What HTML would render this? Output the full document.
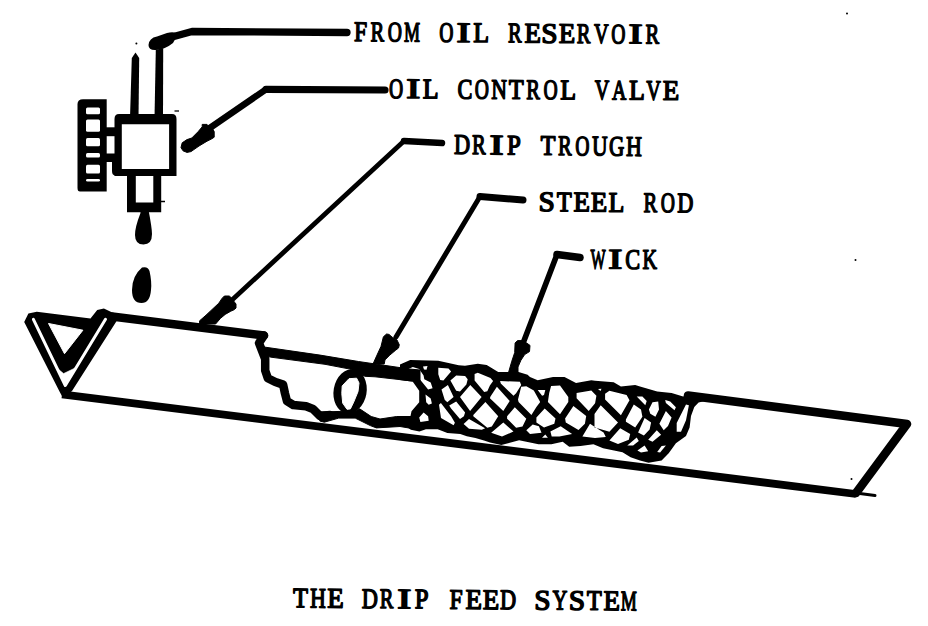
<!DOCTYPE html>
<html><head><meta charset="utf-8"><style>html,body{margin:0;padding:0;background:#fff;overflow:hidden;}svg{display:block;}</style></head>
<body><svg width="928" height="626" viewBox="0 0 928 626"><path d="M347.0,32.5 L192.0,31.5 L172.0,37.0" fill="none" stroke="#000" stroke-width="7.3" stroke-linecap="round" stroke-linejoin="round"/>
<path d="M148.5,45 Q149,38 157,36.5 L167,33 Q174,31 178,34 L173,43 Q165,49.5 156,50 Q148.5,50.5 148.5,45Z" fill="#000"/>
<path d="M385.0,90.0 L266.0,89.4" fill="none" stroke="#000" stroke-width="7.2" stroke-linecap="round" stroke-linejoin="round"/>
<path d="M266.0,89.4 L204.0,132.0" fill="none" stroke="#000" stroke-width="6.5" stroke-linecap="round" stroke-linejoin="round"/>
<path d="M202.2,124.4 L207.0,124.4 L208.6,126.0 L211.0,126.0 L214.2,131.6 L214.2,137.2 L211.8,138.8 L207.0,141.2 L199.0,146.0 L191.0,151.6 L187.0,152.4 L183.0,150.8 L181.0,147.6 L182.2,142.8 L187.0,139.6 L191.8,138.0 L198.2,131.6 L202.2,126.8Z" fill="#000" stroke="#000" stroke-width="1" stroke-linejoin="round"/>
<path d="M442.0,143.0 L404.0,141.0" fill="none" stroke="#000" stroke-width="6.5" stroke-linecap="round" stroke-linejoin="round"/>
<path d="M404.0,141.0 L232.0,300.0" fill="none" stroke="#000" stroke-width="4.8" stroke-linecap="round" stroke-linejoin="round"/>
<path d="M222.0,298.4 L224.4,296.0 L229.2,296.0 L230.8,297.2 L234.4,302.0 L236.0,304.0 L236.0,308.0 L234.4,309.6 L230.8,311.2 L225.2,314.4 L220.4,318.4 L215.6,324.0 L199.6,324.0 L199.6,320.8 L206.0,315.2 L218.8,303.2Z" fill="#000" stroke="#000" stroke-width="1" stroke-linejoin="round"/>
<path d="M523.0,200.0 L480.0,196.5" fill="none" stroke="#000" stroke-width="7" stroke-linecap="round" stroke-linejoin="round"/>
<path d="M480.0,196.5 L396.0,337.0" fill="none" stroke="#000" stroke-width="5" stroke-linecap="round" stroke-linejoin="round"/>
<path d="M383.4,336.8 L386.6,334.0 L389.0,334.4 L392.2,337.2 L397.0,340.0 L399.3,344.8 L398.5,348.0 L395.4,350.4 L389.8,355.1 L385.0,359.9 L384.2,364.0 L373.0,364.0 L377.0,355.1 L381.0,346.4 L382.6,340.0Z" fill="#000" stroke="#000" stroke-width="1" stroke-linejoin="round"/>
<path d="M580.0,257.5 L557.0,254.5" fill="none" stroke="#000" stroke-width="7.5" stroke-linecap="round" stroke-linejoin="round"/>
<path d="M557.0,254.5 L523.5,342.0" fill="none" stroke="#000" stroke-width="5.6" stroke-linecap="round" stroke-linejoin="round"/>
<path d="M515.1,343.0 L517.5,340.6 L521.8,340.6 L526.6,343.0 L530.0,345.4 L529.5,351.6 L524.7,354.5 L520.9,360.3 L518.0,367.0 L518.0,373.0 L508.4,373.0 L511.8,361.2 L514.7,352.6Z" fill="#000" stroke="#000" stroke-width="1" stroke-linejoin="round"/>
<path d="M130.0,118.0 L131.8,58.0 L135.5,52.5 L139.2,58.0 L138.5,118.0Z" fill="#000"/>
<path d="M154.5,118.0 L155.8,50.0 L163.2,48.0 L163.0,118.0Z" fill="#000"/>
<path d="M119,114 Q114.5,114 114.5,119 V176 H176.5 V119 Q176.5,114 172,114 Z M121.8,124.3 V169.1 H169.1 V124.3 Z" fill="#000" fill-rule="evenodd"/>
<rect x="104" y="127.3" width="13" height="8.9" fill="#000"/><rect x="104" y="153.5" width="13" height="8.5" fill="#000"/><path d="M112,162 H118 V175.5 H115 Q112,175 112,171 Z" fill="#000"/>
<path d="M83,99.2 H106.7 V191.5 H80 Q77.5,191.5 77.5,188 V104 Q77.5,99.2 83,99.2Z" fill="#000"/>
<rect x="86" y="107.6" width="14" height="6.7" rx="1.5" fill="#fff"/>
<rect x="86" y="119.5" width="14" height="12.3" rx="1.5" fill="#fff"/>
<rect x="86" y="137.9" width="14" height="8.4" rx="1.5" fill="#fff"/>
<rect x="86" y="153" width="14" height="4.5" rx="1.5" fill="#fff"/>
<rect x="86" y="164.7" width="14" height="8.8" rx="1.5" fill="#fff"/>
<rect x="86" y="179" width="14" height="2.4" rx="1.5" fill="#fff"/>
<path d="M127,171.8 H161.2 V212.2 H127 Z M135.8,175.3 V202.5 H153.3 V175.3 Z" fill="#000" fill-rule="evenodd"/>
<path d="M140.5,210 L148.5,210 Q152,228 152,234 Q152,244.5 143.5,244.5 Q135,244.5 135,235 Q135,227 140.5,213 Z" fill="#000"/>
<path d="M142,267.5 Q148,266 149.5,271 Q152,282 151,290 Q150,303 141.5,303 Q132,303 132,290 Q132,276 142,267.5 Z" fill="#000"/>
<path d="M24.2,322.0 L28.4,313.4 L36.8,311.7 L90.5,318.4 L97.2,310.0 L103.9,308.4 L112.3,312.6 L120.0,314.5 L116.0,322.0 L72.0,391.0 L63.0,398.0 L59.5,391.5Z" fill="#000"/>
<path d="M33.4,319.3 L65.3,385.5 L105.5,319.3" fill="none" stroke="#fff" stroke-width="3" stroke-linejoin="round" stroke-linecap="round"/>
<path d="M56.9,368.0 L63.6,373.5 L75.0,368.0 L70.0,377.0 L65.3,386.0 L61.0,377.0Z" fill="#fff" stroke="#fff" stroke-width="0.5" stroke-linejoin="round"/>
<circle cx="847" cy="13.5" r="1" fill="#000"/><circle cx="855.5" cy="260" r="1" fill="#000"/><circle cx="851.5" cy="479" r="1" fill="#000"/><circle cx="136.4" cy="43.5" r="1" fill="#000"/><path d="M174.5,111 H179" stroke="#000" stroke-width="1.3"/><path d="M160,201.5 H165" stroke="#000" stroke-width="1.5"/>
<path d="M48.5,323.5 L82.9,330.2 L64.5,353.7Z" fill="#fff" stroke="#fff" stroke-width="1" stroke-linejoin="round"/>
<path d="M112.0,316.5 L264.0,335.5" fill="none" stroke="#000" stroke-width="8.5" stroke-linecap="round" stroke-linejoin="round"/>
<path d="M264.0,335.5 L259.0,343.0 L265.2,359.0 L265.2,370.5 L267.8,378.2 L275.4,382.0 L283.1,384.6 L285.0,393.5 L287.0,401.2 L293.3,405.0 L306.0,406.3 L313.0,409.0 L320.0,416.0 L330.0,415.0" fill="none" stroke="#000" stroke-width="8.5" stroke-linecap="round" stroke-linejoin="round"/>
<path d="M264.0,347.0 L320.0,355.1 L358.5,361.5 L409.5,369.0 L420.0,370.0 L420.0,381.0 L409.5,380.7 L375.0,376.8 L365.0,376.3 L350.0,369.1 L325.0,364.3 L270.3,357.1 L264.0,356.0Z" fill="#000" stroke="#000" stroke-width="1" stroke-linejoin="round"/>
<path d="M62.0,394.3 L856.0,494.0" fill="none" stroke="#000" stroke-width="7.8" stroke-linecap="butt" stroke-linejoin="round"/>
<path d="M856.0,493.0 L875.0,495.5" fill="none" stroke="#000" stroke-width="3" stroke-linecap="round" stroke-linejoin="round"/>
<path d="M688.0,395.5 L907.0,424.0 L856.0,493.0" fill="none" stroke="#000" stroke-width="8.6" stroke-linecap="round" stroke-linejoin="round"/>
<ellipse cx="350.1" cy="391.3" rx="16.5" ry="22.3" transform="rotate(10 350.1 391.3)" fill="#000"/>
<path d="M342.2,385.9 L349.0,378.7 L356.6,378.2 L359.0,383.0 L358.0,391.6 L353.7,402.1 L350.4,408.9 L347.0,409.3 L342.7,403.1 L341.8,393.5Z" fill="#fff" stroke="#fff" stroke-width="1" stroke-linejoin="round"/>
<path d="M319.8,412.0 L355.0,411.0 L359.6,408.8 L371.2,416.5 L380.0,419.0 L396.7,416.5 L412.0,416.5 L412.0,428.5 L400.0,426.5 L376.4,427.9 L370.3,425.6 L355.2,418.1 L338.7,418.1 L324.3,422.2 L319.8,421.0Z" fill="#000" stroke="#000" stroke-width="1" stroke-linejoin="round"/>
<path d="M400.0,364.6 L410.2,360.1 L438.3,360.7 L458.7,365.2 L465.0,365.7 L477.8,363.8 L486.7,365.1 L498.2,372.1 L518.6,372.1 L527.6,374.7 L530.0,377.1 L537.7,380.3 L553.0,377.1 L564.5,377.1 L576.0,382.9 L591.3,380.3 L595.0,380.7 L613.7,382.2 L620.9,386.5 L635.2,385.1 L640.0,386.5 L657.2,391.5 L671.6,392.9 L683.1,396.5 L690.0,393.0 L706.0,394.5 L706.0,400.8 L698.6,402.6 L694.3,407.0 L691.0,415.9 L689.6,427.4 L686.0,436.1 L675.9,443.2 L668.7,453.3 L661.6,460.5 L648.6,462.7 L640.0,460.4 L630.6,457.2 L622.5,452.3 L603.1,448.3 L593.4,444.2 L580.5,445.9 L569.2,446.7 L562.7,441.8 L551.4,444.2 L538.5,444.2 L519.1,440.2 L501.3,445.0 L490.0,442.6 L484.0,440.6 L475.4,437.9 L466.8,436.3 L460.3,434.1 L447.4,433.0 L437.7,429.2 L425.9,429.2 L419.4,431.4 L410.8,429.8 L406.5,426.6 L400.0,426.0 L400.0,416.3 L410.2,417.6 L411.5,411.2 L419.2,402.3 L419.2,390.8 L412.8,381.8 L400.0,379.9Z M408.3,369.0 L412.8,367.1 L419.2,369.0 L423.6,375.4 L424.3,379.3 L430.7,382.5 L432.6,388.2 L428.1,389.5 L424.9,385.6 L420.4,380.0 L414.0,375.5 L408.3,373.0Z M423.0,366.5 L427.5,366.0 L426.5,369.7 L424.0,369.5Z M425.5,394.6 L430.7,398.4 L431.9,403.5 L428.7,404.8 L426.2,402.3Z M419.2,417.6 L423.6,412.5 L428.1,416.3 L428.7,420.8 L420.4,422.0Z M438.3,367.8 L448.5,368.4 L451.1,371.6 L443.4,380.5 L440.2,379.9 L438.3,374.2Z M450.4,380.5 L456.2,375.4 L465.1,376.1 L467.7,379.3 L466.4,384.4 L460.0,391.4 L456.2,390.8Z M441.5,389.5 L447.9,385.0 L453.6,397.1 L447.3,402.3 L444.7,399.7Z M449.2,405.4 L456.2,401.6 L465.1,412.5 L463.9,416.3 L460.0,418.9 L451.1,408.6Z M439.0,404.8 L440.9,402.9 L451.1,416.3 L454.9,422.7 L453.6,425.2 L441.0,417.9Z M460.0,397.0 L470.3,385.0 L481.6,397.0 L470.1,411.1Z M474.6,374.0 L477.8,372.8 L490.5,377.9 L493.1,381.1 L489.9,385.5 L487.3,391.3 L484.2,391.9 L474.6,380.4Z M500.1,381.1 L519.9,381.7 L521.2,384.9 L516.1,393.2 L513.5,395.8 L500.8,383.6Z M521.2,386.8 L526.3,386.2 L533.8,390.5 L540.2,402.0 L536.4,407.1 L531.4,414.9 L518.6,402.1 L518.0,399.6Z M490.5,396.4 L496.9,386.8 L509.7,400.9 L503.3,411.1 L489.9,398.3Z M473.3,414.9 L485.4,402.1 L498.2,416.2 L491.8,426.4 L487.3,427.7 L473.3,416.2Z M507.1,416.2 L514.8,407.3 L526.3,418.7 L522.5,426.4 L516.1,427.7 L507.1,418.7Z M463.6,423.9 L469.0,419.0 L485.1,428.2 L481.9,429.8 L469.0,428.7Z M491.2,432.8 L503.3,422.6 L513.5,431.5 L502.0,436.6Z M526.3,430.2 L532.7,424.5 L538.9,426.3 L541.5,432.7 L530.0,434.0Z M537.7,389.9 L545.3,389.9 L544.0,395.0 L542.1,395.7Z M551.1,386.1 L560.0,385.4 L568.3,396.9 L568.3,402.0 L560.0,414.2 L547.9,402.0 L549.2,393.1Z M576.6,393.1 L591.3,390.5 L596.4,395.7 L595.1,403.3 L588.7,411.0 L576.6,398.2Z M536.4,417.4 L544.7,408.4 L555.5,418.6 L554.3,423.7 L544.0,427.6 L536.4,422.5Z M565.1,418.6 L573.4,405.9 L586.2,416.1 L584.9,423.7 L578.5,430.1 L565.8,422.5Z M594.5,414.0 L600.7,405.2 L618.0,422.4 L609.4,431.8 L600.0,429.0 L594.5,427.6Z M550.4,431.4 L560.7,426.3 L572.1,434.0 L559.4,436.5 L551.7,436.5Z M542.0,437.8 L545.3,434.6 L547.9,437.8Z M582.4,436.5 L590.0,423.7 L596.4,428.0 L603.6,432.5 L605.8,437.0 L595.0,438.0Z M605.1,393.7 L609.4,390.8 L626.6,395.1 L629.5,400.2 L620.9,415.2 L605.1,399.4Z M598.0,389.0 L601.5,388.7 L600.5,391.0Z M625.9,419.6 L633.8,404.5 L641.0,409.5 L642.4,416.7 L635.2,427.5 L625.9,421.7Z M636.7,396.6 L642.4,396.6 L646.7,400.9 L645.3,405.2Z M648.9,409.5 L652.5,402.3 L658.2,401.6 L659.0,409.5 L655.4,416.7 L650.3,413.8Z M638.1,432.5 L644.6,418.1 L651.1,422.4 L649.6,429.6 L643.9,435.4Z M609.4,440.4 L620.2,428.2 L630.2,433.9 L628.8,439.7 L618.0,444.0Z M627.3,445.4 L636.7,437.5 L638.8,441.1 L633.1,445.4Z M648.2,439.7 L656.8,430.3 L661.1,434.7 L652.5,441.8Z M637.4,450.5 L644.6,445.4 L648.2,451.2 L641.0,452.6Z M665.2,400.1 L670.2,401.6 L675.9,407.3 L674.5,410.2 L665.9,403.0Z M659.4,423.8 L665.9,410.9 L671.6,417.4 L668.0,426.0 L663.7,430.3Z M676.7,423.1 L686.0,404.4 L688.9,405.2 L686.0,420.2 L681.0,431.7 L676.7,431.7Z M657.2,451.9 L661.6,446.1 L665.9,445.4 L660.1,452.6Z" fill="#000" fill-rule="evenodd" stroke="none"/>
<g transform="rotate(0.47 360.3 41.9)"><text transform="translate(353.88 41.15) scale(0.830 1)" font-family="Liberation Serif" font-size="28.2" stroke="#000" stroke-width="1.5" stroke-linejoin="round">F</text><text transform="translate(370.41 41.15) scale(0.724 1)" font-family="Liberation Serif" font-size="28.2" stroke="#000" stroke-width="1.5" stroke-linejoin="round">R</text><text transform="translate(387.65 41.15) scale(0.692 1)" font-family="Liberation Serif" font-size="28.2" stroke="#000" stroke-width="1.5" stroke-linejoin="round">O</text><text transform="translate(403.93 41.15) scale(0.636 1)" font-family="Liberation Serif" font-size="28.2" stroke="#000" stroke-width="1.5" stroke-linejoin="round">M</text><text transform="translate(439.25 41.15) scale(0.692 1)" font-family="Liberation Serif" font-size="28.2" stroke="#000" stroke-width="1.5" stroke-linejoin="round">O</text><text transform="translate(456.48 41.15) scale(1.490 1)" font-family="Liberation Serif" font-size="28.2" stroke="#000" stroke-width="1.5" stroke-linejoin="round">I</text><text transform="translate(473.20 41.15) scale(0.917 1)" font-family="Liberation Serif" font-size="28.2" stroke="#000" stroke-width="1.5" stroke-linejoin="round">L</text><text transform="translate(508.01 41.15) scale(0.724 1)" font-family="Liberation Serif" font-size="28.2" stroke="#000" stroke-width="1.5" stroke-linejoin="round">R</text><text transform="translate(524.38 41.15) scale(0.953 1)" font-family="Liberation Serif" font-size="28.2" stroke="#000" stroke-width="1.5" stroke-linejoin="round">E</text><text transform="translate(541.29 41.15) scale(1.037 1)" font-family="Liberation Serif" font-size="28.2" stroke="#000" stroke-width="1.5" stroke-linejoin="round">S</text><text transform="translate(558.78 41.15) scale(0.953 1)" font-family="Liberation Serif" font-size="28.2" stroke="#000" stroke-width="1.5" stroke-linejoin="round">E</text><text transform="translate(576.81 41.15) scale(0.724 1)" font-family="Liberation Serif" font-size="28.2" stroke="#000" stroke-width="1.5" stroke-linejoin="round">R</text><text transform="translate(593.88 41.15) scale(0.710 1)" font-family="Liberation Serif" font-size="28.2" stroke="#000" stroke-width="1.5" stroke-linejoin="round">V</text><text transform="translate(611.25 41.15) scale(0.692 1)" font-family="Liberation Serif" font-size="28.2" stroke="#000" stroke-width="1.5" stroke-linejoin="round">O</text><text transform="translate(628.48 41.15) scale(1.490 1)" font-family="Liberation Serif" font-size="28.2" stroke="#000" stroke-width="1.5" stroke-linejoin="round">I</text><text transform="translate(645.61 41.15) scale(0.724 1)" font-family="Liberation Serif" font-size="28.2" stroke="#000" stroke-width="1.5" stroke-linejoin="round">R</text></g>
<g transform="rotate(0.38 396 98.8)"><text transform="translate(388.95 98.05) scale(0.692 1)" font-family="Liberation Serif" font-size="28.2" stroke="#000" stroke-width="1.5" stroke-linejoin="round">O</text><text transform="translate(406.15 98.05) scale(1.490 1)" font-family="Liberation Serif" font-size="28.2" stroke="#000" stroke-width="1.5" stroke-linejoin="round">I</text><text transform="translate(422.84 98.05) scale(0.917 1)" font-family="Liberation Serif" font-size="28.2" stroke="#000" stroke-width="1.5" stroke-linejoin="round">L</text><text transform="translate(457.42 98.05) scale(0.789 1)" font-family="Liberation Serif" font-size="28.2" stroke="#000" stroke-width="1.5" stroke-linejoin="round">C</text><text transform="translate(474.80 98.05) scale(0.692 1)" font-family="Liberation Serif" font-size="28.2" stroke="#000" stroke-width="1.5" stroke-linejoin="round">O</text><text transform="translate(491.15 98.05) scale(0.767 1)" font-family="Liberation Serif" font-size="28.2" stroke="#000" stroke-width="1.5" stroke-linejoin="round">N</text><text transform="translate(508.75 98.05) scale(0.862 1)" font-family="Liberation Serif" font-size="28.2" stroke="#000" stroke-width="1.5" stroke-linejoin="round">T</text><text transform="translate(526.27 98.05) scale(0.724 1)" font-family="Liberation Serif" font-size="28.2" stroke="#000" stroke-width="1.5" stroke-linejoin="round">R</text><text transform="translate(543.48 98.05) scale(0.692 1)" font-family="Liberation Serif" font-size="28.2" stroke="#000" stroke-width="1.5" stroke-linejoin="round">O</text><text transform="translate(560.20 98.05) scale(0.917 1)" font-family="Liberation Serif" font-size="28.2" stroke="#000" stroke-width="1.5" stroke-linejoin="round">L</text><text transform="translate(594.82 98.05) scale(0.710 1)" font-family="Liberation Serif" font-size="28.2" stroke="#000" stroke-width="1.5" stroke-linejoin="round">V</text><text transform="translate(612.02 98.05) scale(0.704 1)" font-family="Liberation Serif" font-size="28.2" stroke="#000" stroke-width="1.5" stroke-linejoin="round">A</text><text transform="translate(628.88 98.05) scale(0.917 1)" font-family="Liberation Serif" font-size="28.2" stroke="#000" stroke-width="1.5" stroke-linejoin="round">L</text><text transform="translate(646.33 98.05) scale(0.710 1)" font-family="Liberation Serif" font-size="28.2" stroke="#000" stroke-width="1.5" stroke-linejoin="round">V</text><text transform="translate(662.80 98.05) scale(0.953 1)" font-family="Liberation Serif" font-size="28.2" stroke="#000" stroke-width="1.5" stroke-linejoin="round">E</text></g>
<g transform="rotate(0.6 462 154.7)"><text transform="translate(454.11 153.95) scale(0.787 1)" font-family="Liberation Serif" font-size="28.2" stroke="#000" stroke-width="1.5" stroke-linejoin="round">D</text><text transform="translate(472.11 153.95) scale(0.724 1)" font-family="Liberation Serif" font-size="28.2" stroke="#000" stroke-width="1.5" stroke-linejoin="round">R</text><text transform="translate(489.38 153.95) scale(1.490 1)" font-family="Liberation Serif" font-size="28.2" stroke="#000" stroke-width="1.5" stroke-linejoin="round">I</text><text transform="translate(506.89 153.95) scale(0.873 1)" font-family="Liberation Serif" font-size="28.2" stroke="#000" stroke-width="1.5" stroke-linejoin="round">P</text><text transform="translate(540.56 153.95) scale(0.862 1)" font-family="Liberation Serif" font-size="28.2" stroke="#000" stroke-width="1.5" stroke-linejoin="round">T</text><text transform="translate(558.11 153.95) scale(0.724 1)" font-family="Liberation Serif" font-size="28.2" stroke="#000" stroke-width="1.5" stroke-linejoin="round">R</text><text transform="translate(575.35 153.95) scale(0.692 1)" font-family="Liberation Serif" font-size="28.2" stroke="#000" stroke-width="1.5" stroke-linejoin="round">O</text><text transform="translate(591.90 153.95) scale(0.756 1)" font-family="Liberation Serif" font-size="28.2" stroke="#000" stroke-width="1.5" stroke-linejoin="round">U</text><text transform="translate(609.09 153.95) scale(0.748 1)" font-family="Liberation Serif" font-size="28.2" stroke="#000" stroke-width="1.5" stroke-linejoin="round">G</text><text transform="translate(626.12 153.95) scale(0.774 1)" font-family="Liberation Serif" font-size="28.2" stroke="#000" stroke-width="1.5" stroke-linejoin="round">H</text></g>
<g transform="rotate(0.45 546.8 211.9)"><text transform="translate(538.59 211.15) scale(1.037 1)" font-family="Liberation Serif" font-size="28.2" stroke="#000" stroke-width="1.5" stroke-linejoin="round">S</text><text transform="translate(556.65 211.15) scale(0.862 1)" font-family="Liberation Serif" font-size="28.2" stroke="#000" stroke-width="1.5" stroke-linejoin="round">T</text><text transform="translate(573.46 211.15) scale(0.953 1)" font-family="Liberation Serif" font-size="28.2" stroke="#000" stroke-width="1.5" stroke-linejoin="round">E</text><text transform="translate(590.75 211.15) scale(0.953 1)" font-family="Liberation Serif" font-size="28.2" stroke="#000" stroke-width="1.5" stroke-linejoin="round">E</text><text transform="translate(608.46 211.15) scale(0.917 1)" font-family="Liberation Serif" font-size="28.2" stroke="#000" stroke-width="1.5" stroke-linejoin="round">L</text><text transform="translate(643.45 211.15) scale(0.724 1)" font-family="Liberation Serif" font-size="28.2" stroke="#000" stroke-width="1.5" stroke-linejoin="round">R</text><text transform="translate(660.78 211.15) scale(0.692 1)" font-family="Liberation Serif" font-size="28.2" stroke="#000" stroke-width="1.5" stroke-linejoin="round">O</text><text transform="translate(677.23 211.15) scale(0.787 1)" font-family="Liberation Serif" font-size="28.2" stroke="#000" stroke-width="1.5" stroke-linejoin="round">D</text></g>
<g transform="rotate(0.3 598 269.3)"><text transform="translate(590.48 268.55) scale(0.565 1)" font-family="Liberation Serif" font-size="28.2" stroke="#000" stroke-width="1.5" stroke-linejoin="round">W</text><text transform="translate(608.28 268.55) scale(1.490 1)" font-family="Liberation Serif" font-size="28.2" stroke="#000" stroke-width="1.5" stroke-linejoin="round">I</text><text transform="translate(625.34 268.55) scale(0.789 1)" font-family="Liberation Serif" font-size="28.2" stroke="#000" stroke-width="1.5" stroke-linejoin="round">C</text><text transform="translate(642.47 268.55) scale(0.711 1)" font-family="Liberation Serif" font-size="28.2" stroke="#000" stroke-width="1.5" stroke-linejoin="round">K</text></g>
<g transform="rotate(0.5 300.5 608.1)"><text transform="translate(293.06 607.35) scale(0.862 1)" font-family="Liberation Serif" font-size="28.2" stroke="#000" stroke-width="1.5" stroke-linejoin="round">T</text><text transform="translate(309.90 607.35) scale(0.774 1)" font-family="Liberation Serif" font-size="28.2" stroke="#000" stroke-width="1.5" stroke-linejoin="round">H</text><text transform="translate(327.14 607.35) scale(0.953 1)" font-family="Liberation Serif" font-size="28.2" stroke="#000" stroke-width="1.5" stroke-linejoin="round">E</text><text transform="translate(361.73 607.35) scale(0.787 1)" font-family="Liberation Serif" font-size="28.2" stroke="#000" stroke-width="1.5" stroke-linejoin="round">D</text><text transform="translate(379.81 607.35) scale(0.724 1)" font-family="Liberation Serif" font-size="28.2" stroke="#000" stroke-width="1.5" stroke-linejoin="round">R</text><text transform="translate(397.16 607.35) scale(1.490 1)" font-family="Liberation Serif" font-size="28.2" stroke="#000" stroke-width="1.5" stroke-linejoin="round">I</text><text transform="translate(414.75 607.35) scale(0.873 1)" font-family="Liberation Serif" font-size="28.2" stroke="#000" stroke-width="1.5" stroke-linejoin="round">P</text><text transform="translate(449.60 607.35) scale(0.830 1)" font-family="Liberation Serif" font-size="28.2" stroke="#000" stroke-width="1.5" stroke-linejoin="round">F</text><text transform="translate(465.38 607.35) scale(0.953 1)" font-family="Liberation Serif" font-size="28.2" stroke="#000" stroke-width="1.5" stroke-linejoin="round">E</text><text transform="translate(482.66 607.35) scale(0.953 1)" font-family="Liberation Serif" font-size="28.2" stroke="#000" stroke-width="1.5" stroke-linejoin="round">E</text><text transform="translate(499.97 607.35) scale(0.787 1)" font-family="Liberation Serif" font-size="28.2" stroke="#000" stroke-width="1.5" stroke-linejoin="round">D</text><text transform="translate(534.21 607.35) scale(1.037 1)" font-family="Liberation Serif" font-size="28.2" stroke="#000" stroke-width="1.5" stroke-linejoin="round">S</text><text transform="translate(552.47 607.35) scale(0.724 1)" font-family="Liberation Serif" font-size="28.2" stroke="#000" stroke-width="1.5" stroke-linejoin="round">Y</text><text transform="translate(568.77 607.35) scale(1.037 1)" font-family="Liberation Serif" font-size="28.2" stroke="#000" stroke-width="1.5" stroke-linejoin="round">S</text><text transform="translate(586.82 607.35) scale(0.862 1)" font-family="Liberation Serif" font-size="28.2" stroke="#000" stroke-width="1.5" stroke-linejoin="round">T</text><text transform="translate(603.62 607.35) scale(0.953 1)" font-family="Liberation Serif" font-size="28.2" stroke="#000" stroke-width="1.5" stroke-linejoin="round">E</text><text transform="translate(620.85 607.35) scale(0.636 1)" font-family="Liberation Serif" font-size="28.2" stroke="#000" stroke-width="1.5" stroke-linejoin="round">M</text></g></svg></body></html>
